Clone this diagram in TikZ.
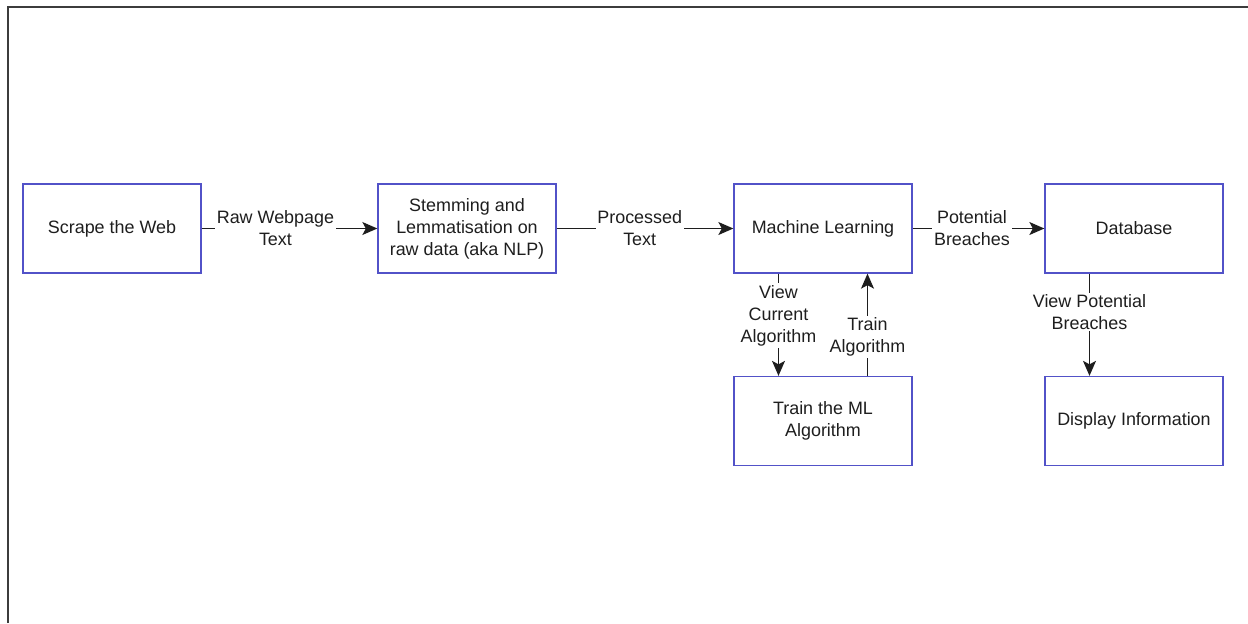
\documentclass[tikz,border=0pt]{standalone}
\usepackage{fontspec}
\setmainfont{Liberation Sans}
\usetikzlibrary{arrows.meta}
\definecolor{boxblue}{HTML}{5252C8}
\definecolor{ink}{HTML}{1E1E1E}
\definecolor{framegrey}{HTML}{3C3C3C}

\begin{document}
\begin{tikzpicture}[
    block/.style={
        draw=boxblue, line width=0.75pt, fill=white,
        minimum height=1.78cm, minimum width=3.56cm, inner sep=0pt,
        font=\fontsize{10.2}{12.6}\selectfont, text=ink, align=center,
    },
    arr/.style={-{Stealth[length=3mm, width=2.6mm, inset=0.7mm]}, line width=0.7pt, color=ink},
    elabel/.style={fill=white, inner sep=1pt, font=\fontsize{10.2}{12.6}\selectfont, text=ink, align=center},
]
\useasboundingbox (0,0) rectangle (24.96,-12.46);

% ── Window frame ──
\draw[framegrey, line width=1.2pt] (0.16,-12.46) |- (24.96,-0.14);

% ── Top row blocks ──
\node[block] (scrape) at (2.24, -4.57) {Scrape the Web};
\node[block] (nlp) at (9.34, -4.57) {Stemming and\\Lemmatisation on\\raw data (aka NLP)};
\node[block] (ml) at (16.46, -4.57) {Machine Learning};
\node[block] (db) at (22.68, -4.57) {Database};

% ── Bottom row blocks ──
\node[block] (train) at (16.46, -8.42) {Train the ML\\Algorithm};
\node[block] (display) at (22.68, -8.42) {Display Information};

% ── Arrows ──
\draw[arr] (scrape) -- node[elabel, pos=0.42] {Raw Webpage\\Text} (nlp);
\draw[arr] (nlp) -- node[elabel, pos=0.47] {Processed\\Text} (ml);
\draw[arr] (ml) -- node[elabel, pos=0.45] {Potential\\Breaches} (db);

\draw[arr] ([xshift=-0.89cm]ml.south) -- node[elabel, pos=0.41] {View\\Current\\Algorithm} ([xshift=-0.89cm]train.north);
\draw[arr] ([xshift=0.89cm]train.north) -- node[elabel, pos=0.38] {Train\\Algorithm} ([xshift=0.89cm]ml.south);
\draw[arr] ([xshift=-0.89cm]db.south) -- node[elabel, pos=0.375] {View Potential\\Breaches} ([xshift=-0.89cm]display.north);

\end{tikzpicture}
\end{document}
